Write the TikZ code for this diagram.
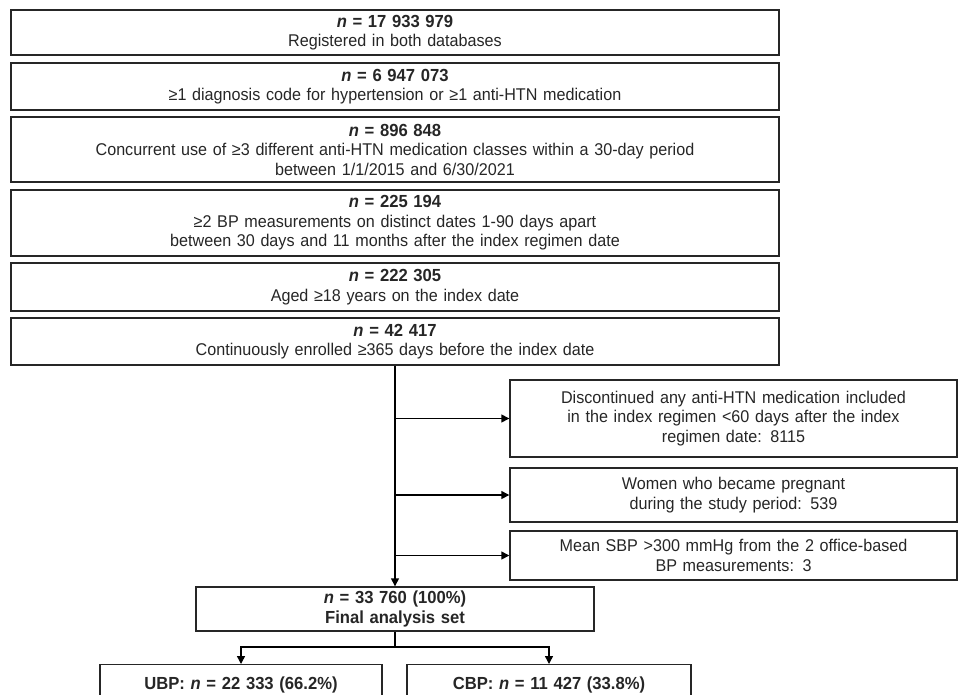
\documentclass[tikz,border=0pt]{standalone}
\usepackage{fontspec}
\setmainfont[FakeStretch=0.95,WordSpace=0.9]{Liberation Sans}
\usetikzlibrary{arrows.meta}

\newcommand{\ncount}[1]{{\fontsize{17.5}{19.5}\selectfont\bfseries\textit{n} = #1}}

\begin{document}
\begin{tikzpicture}[x=1pt,y=-1pt,line width=1.4pt,
    >={Triangle[length=8pt,width=8pt]},
    every node/.style={font=\fontsize{17}{19.5}\selectfont, text=black!85},
    stepbox/.style={draw=black!85, inner xsep=0pt, inner ysep=0pt, align=center, text width=768pt},
    exclbox/.style={stepbox, text width=447pt},
    armbox/.style={stepbox, anchor=north, minimum height=40pt}]
    \useasboundingbox (0,0) rectangle (959,694);
    \clip (0,0) rectangle (959,694);
    % selection steps
    \node[stepbox, minimum height=45pt] (s1) at (395,32.5) {\ncount{17 933 979}\\Registered in both databases};
    \node[stepbox, minimum height=47pt] (s2) at (395,86.5) {\ncount{6 947 073}\\≥1 diagnosis code for hypertension or ≥1 anti-HTN medication};
    \node[stepbox, minimum height=65pt] (s3) at (395,149.5) {\ncount{896 848}\\Concurrent use of ≥3 different anti-HTN medication classes within a 30-day period\\between 1/1/2015 and 6/30/2021};
    \node[stepbox, minimum height=66pt] (s4) at (395,223) {\ncount{225 194}\\≥2 BP measurements on distinct dates 1-90 days apart\\between 30 days and 11 months after the index regimen date};
    \node[stepbox, minimum height=48pt] (s5) at (395,287) {\ncount{222 305}\\Aged ≥18 years on the index date};
    \node[stepbox, minimum height=47pt] (s6) at (395,341.5) {\ncount{42 417}\\Continuously enrolled ≥365 days before the index date};
    % exclusions
    \node[exclbox, minimum height=77pt] (e1) at (733.5,418.5) {Discontinued any anti-HTN medication included\\in the index regimen <60 days after the index\\regimen date: 8115};
    \node[exclbox, minimum height=54pt] (e2) at (733.5,495) {Women who became pregnant\\during the study period: 539};
    \node[exclbox, minimum height=49pt] (e3) at (733.5,555.5) {Mean SBP >300 mmHg from the 2 office-based\\BP measurements: 3};
    % final set and arms
    \node[stepbox, text width=398pt, minimum height=44pt] (final) at (395,609) {\ncount{33 760 (100\%)}\\{\fontsize{17.5}{19.5}\selectfont\bfseries Final analysis set}};
    \node[armbox, text width=282pt] (ubp) at (241,664) {{\fontsize{17.5}{19.5}\selectfont\bfseries UBP: \textit{n} = 22 333 (66.2\%)}};
    \node[armbox, text width=284pt] (cbp) at (549,664) {{\fontsize{17.5}{19.5}\selectfont\bfseries CBP: \textit{n} = 11 427 (33.8\%)}};
    \coordinate (split) at (395,647);

    \draw[->] (s6) -- (final);
    \draw[->] (s6.south |- e1.west) -- (e1.west);
    \draw[->] (s6.south |- e2.west) -- (e2.west);
    \draw[->] (s6.south |- e3.west) -- (e3.west);
    \draw[->] (final) -- (split) -| (ubp);
    \draw[->] (split) -| (cbp);
\end{tikzpicture}
\end{document}
